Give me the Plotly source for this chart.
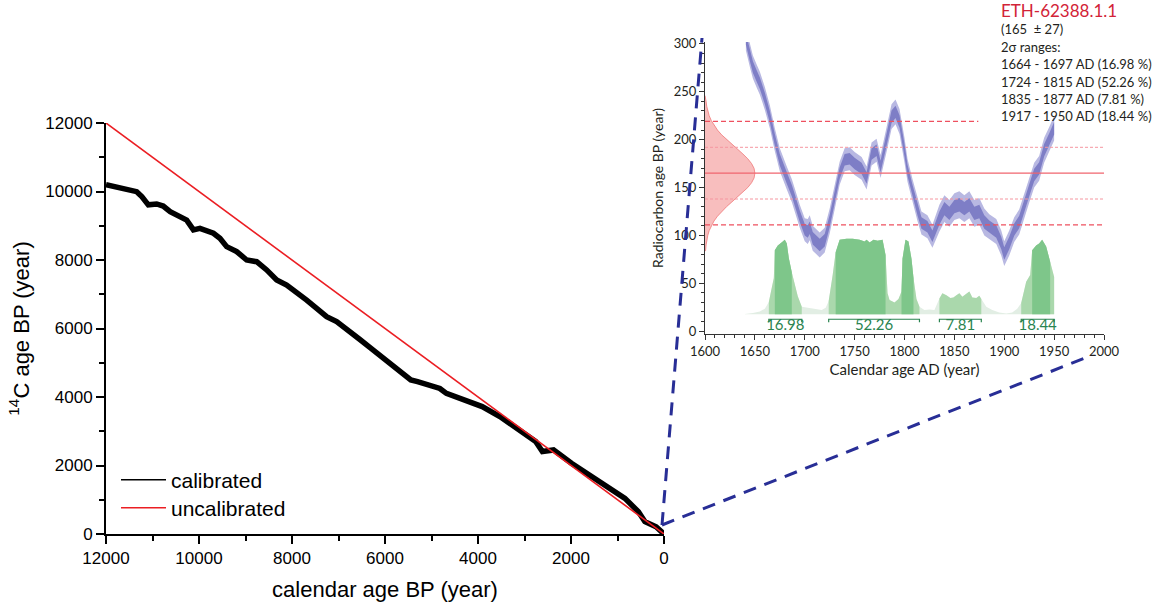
import plotly.graph_objects as go

W, H = 1153, 608

# ---------------- main chart data ----------------
main_age = [12000, 11770, 11555, 11340, 11230, 11090, 10910, 10770, 10620, 10410, 10265, 10120,
            9980, 9690, 9550, 9405, 9190, 8975, 8760, 8545, 8330, 8115, 7900, 7685, 7470, 7255,
            7040, 6825, 6540, 6300, 6050, 5800, 5550, 5445, 5300, 5060, 4820, 4680, 4290, 3910,
            3530, 3140, 2760, 2615, 2375, 1990, 1610, 1225, 840, 550, 410, 170, 50, 0]
main_c14 = [10200, 10120, 10045, 9995, 9850, 9610, 9635, 9575, 9410, 9265, 9165, 8880,
            8925, 8780, 8635, 8390, 8245, 8000, 7950, 7710, 7415, 7270, 7025, 6830, 6590, 6345,
            6200, 5955, 5680, 5420, 5150, 4880, 4620, 4500, 4450, 4350, 4250, 4105, 3910, 3720,
            3430, 3040, 2700, 2410, 2455, 2065, 1725, 1380, 1040, 650, 360, 210, 60, 0]
uncal_age = [12000, 0]
uncal_c14 = [12000, 0]
main_xticks = [12000, 10000, 8000, 6000, 4000, 2000, 0]
main_yticks = [0, 2000, 4000, 6000, 8000, 10000, 12000]

# ---------------- inset data ----------------
cal_year = [1641, 1645, 1648, 1652, 1655, 1660, 1665, 1670, 1675, 1682, 1687, 1690, 1695, 1700,
            1703, 1705, 1708, 1715, 1720, 1725, 1730, 1735, 1740, 1745, 1750, 1757, 1762, 1767,
            1772, 1776, 1782, 1787, 1791, 1795, 1800, 1803, 1808, 1813, 1817, 1823, 1828, 1835,
            1840, 1845, 1850, 1855, 1860, 1865, 1870, 1875, 1880, 1885, 1892, 1897, 1900, 1905,
            1910, 1915, 1920, 1925, 1930, 1935, 1940, 1945, 1950]
cal_bp = [305, 288, 276, 266, 259, 243, 224, 200, 179, 160, 147, 137, 120, 106,
          104, 108, 97, 90, 95, 115, 140, 165, 179, 180, 175, 170, 160, 185,
          189, 172, 200, 224, 229, 219, 189, 168, 147, 127, 113, 109, 99, 118,
          128, 123, 130, 132, 128, 132, 123, 125, 114, 109, 104, 92, 81, 92,
          106, 114, 130, 147, 163, 170, 189, 200, 212]
cal_sigma = [6, 6, 6, 6, 6, 6, 6, 6, 6, 6, 6, 6, 6, 6,
             6.5, 6.5, 6.5, 6.5, 6.5, 6.5, 6.5, 6, 6, 6, 6, 6, 6, 6,
             6, 6, 6.5, 6.5, 6.5, 6.5, 6.5, 6, 6, 6, 6, 6, 6, 7,
             7, 7, 7, 7, 7, 7, 7, 7, 7, 6.5, 6.5, 6.5, 6.5, 6.5,
             6.5, 6.5, 6.5, 6.5, 6.5, 6.5, 6.5, 6.5, 6.5]

dist_year = [1640, 1648, 1655, 1660, 1664, 1667, 1669, 1670, 1673, 1677, 1680, 1682, 1684, 1687,
             1690, 1693, 1697, 1702, 1707, 1712, 1717, 1721, 1724, 1728, 1731, 1735, 1742, 1748,
             1755, 1760, 1762, 1765, 1769, 1773, 1778, 1781, 1783, 1785, 1790, 1794, 1797, 1798,
             1801, 1804, 1807, 1809, 1812, 1815, 1820, 1825, 1830, 1835, 1838, 1842, 1846, 1849,
             1852, 1855, 1858, 1862, 1865, 1868, 1872, 1875, 1877, 1882, 1888, 1895, 1902, 1908,
             1913, 1917, 1922, 1926, 1928, 1932, 1935, 1938, 1942, 1946, 1948, 1950]
dist_h = [0.5, 1.5, 3, 6, 13, 28, 38, 67, 72, 75, 78, 74, 59, 44,
          32, 19, 8, 7, 6, 5.5, 4.5, 7, 14, 41, 65, 78, 79, 79,
          78, 76, 78, 75, 78, 77, 78, 62, 22, 15, 12.5, 16, 24, 58,
          78, 76, 58, 38, 16, 8, 4.5, 5, 4.5, 16.7, 22, 20, 17, 17.5,
          20, 22, 18.5, 22, 24, 17.5, 17, 19.5, 16, 8, 4.5, 2, 1, 2,
          6, 12, 34, 41, 67, 72, 74, 78, 71, 55, 48, 39]
dist_base = 17.5

sample_name = "ETH-62388.1.1"
meas_mean, meas_sd = 165, 27
gauss_bp = [84, 90, 95, 100, 105, 110, 115, 120, 125, 130, 135, 140, 145, 150, 155, 160, 165,
            170, 175, 180, 185, 190, 195, 200, 205, 210, 215, 220, 225, 230, 235, 240, 246]
gauss_w = [0.6, 1.1, 1.7, 2.8, 4.2, 6.3, 9.0, 12.5, 16.7, 21.6, 27.0, 32.6, 38.0, 42.9, 46.7, 49.2, 50,
           49.2, 46.7, 42.9, 38.0, 32.6, 27.0, 21.6, 16.7, 12.5, 9.0, 6.3, 4.2, 2.8, 1.7, 1.1, 0.6]

range2_start = [1664, 1724, 1835, 1917]
range2_end = [1697, 1815, 1877, 1950]
range2_pct = ["16.98", "52.26", "7.81", "18.44"]
range1_start = [1670, 1731, 1797, 1928]
range1_end = [1687, 1781, 1809, 1946]

inset_xticks = [1600, 1650, 1700, 1750, 1800, 1850, 1900, 1950, 2000]
inset_yticks = [0, 50, 100, 150, 200, 250, 300]
X2_MIN, X2_MAX = 1600, 2000
UPPER_2S_END = 1874

# ---------------- styling ----------------
MAIN_FONT = "Liberation Sans"
INSET_FONT = "Lato"
PALE_GREEN = "rgb(226,238,228)"
LIGHT_GREEN = "rgb(170,216,172)"
DARK_GREEN = "rgb(126,198,138)"
BAND_OUTER = "rgb(184,184,226)"
BAND_INNER = "rgb(126,126,198)"
TEXT_GREEN = "#2a8450"
RED_DASH = "rgb(238,80,95)"


def px_x(px):
    return px / W


def px_y(py):
    return 1 - py / H


fig = go.Figure()
ins = dict(xaxis="x2", yaxis="y2", hoverinfo="skip", showlegend=False)


def segment(s, e):
    idx = [i for i, y in enumerate(dist_year) if s <= y <= e]
    xs = [dist_year[idx[0]]] + [dist_year[i] for i in idx] + [dist_year[idx[-1]]]
    ys = [dist_base] + [dist_base + dist_h[i] for i in idx] + [dist_base]
    return xs, ys


# pale full distribution
xs, ys = segment(dist_year[0], dist_year[-1])
fig.add_trace(go.Scatter(x=xs, y=ys, mode="lines", fill="toself", fillcolor=PALE_GREEN,
                         line=dict(width=0), **ins))
for s, e in zip(range2_start, range2_end):
    xs, ys = segment(s, e)
    fig.add_trace(go.Scatter(x=xs, y=ys, mode="lines", fill="toself", fillcolor=LIGHT_GREEN,
                             line=dict(width=0), **ins))
for s, e in zip(range1_start, range1_end):
    xs, ys = segment(s, e)
    fig.add_trace(go.Scatter(x=xs, y=ys, mode="lines", fill="toself", fillcolor=DARK_GREEN,
                             line=dict(width=0), **ins))

# brackets + labels
BR_HI, BR_LO, LBL_Y = 12.4, 9.3, 5.6
for s, e, p in zip(range2_start, range2_end, range2_pct):
    fig.add_trace(go.Scatter(x=[s, s, e, e], y=[BR_LO, BR_HI, BR_HI, BR_LO], mode="lines",
                             line=dict(color=TEXT_GREEN, width=1.2), **ins))
    fig.add_trace(go.Scatter(x=[(s + e) / 2], y=[LBL_Y], mode="text", text=[p],
                             textfont=dict(family=INSET_FONT, size=15, color=TEXT_GREEN),
                             cliponaxis=False, **ins))

# measurement gaussian
gx = [X2_MIN] + [X2_MIN + w for w in gauss_w] + [X2_MIN]
gy = [gauss_bp[0]] + gauss_bp + [gauss_bp[-1]]
fig.add_trace(go.Scatter(x=gx, y=gy, mode="lines", fill="toself", fillcolor="rgb(248,190,190)",
                         line=dict(color="rgb(240,120,120)", width=0.8), **ins))

# calibration curve bands
for k, col in ((2, BAND_OUTER), (1, BAND_INNER)):
    up = [c + k * s for c, s in zip(cal_bp, cal_sigma)]
    lo = [c - k * s for c, s in zip(cal_bp, cal_sigma)]
    fig.add_trace(go.Scatter(x=cal_year + cal_year[::-1], y=up + lo[::-1], mode="lines",
                             fill="toself", fillcolor=col, line=dict(width=0), **ins))

# measurement lines
fig.add_trace(go.Scatter(x=[X2_MIN, X2_MAX], y=[meas_mean, meas_mean], mode="lines",
                         line=dict(color="rgb(240,100,110)", width=1.1), **ins))
for v in (meas_mean - meas_sd, meas_mean + meas_sd):
    fig.add_trace(go.Scatter(x=[X2_MIN, X2_MAX], y=[v, v], mode="lines",
                             line=dict(color="rgb(245,150,160)", width=1, dash="3px,2px"), **ins))
for x_end, v in ((X2_MAX, meas_mean - 2 * meas_sd), (UPPER_2S_END, meas_mean + 2 * meas_sd)):
    fig.add_trace(go.Scatter(x=[X2_MIN, x_end], y=[v, v], mode="lines",
                             line=dict(color=RED_DASH, width=1.2, dash="5px,3px"), **ins))

# ---------------- main traces ----------------
fig.add_trace(go.Scatter(x=main_age, y=main_c14, mode="lines", line=dict(color="black", width=5.5),
                         showlegend=False, hoverinfo="skip"))
fig.add_trace(go.Scatter(x=uncal_age, y=uncal_c14, mode="lines",
                         line=dict(color="rgb(235,30,35)", width=1.6), showlegend=False,
                         hoverinfo="skip"))
fig.add_trace(go.Scatter(x=[None], y=[None], mode="lines", name="calibrated",
                         line=dict(color="black", width=1.5), legend="legend"))
fig.add_trace(go.Scatter(x=[None], y=[None], mode="lines", name="uncalibrated",
                         line=dict(color="rgb(235,30,35)", width=1.5), legend="legend2"))

# ---------------- connectors ----------------
DASH_COL = "rgb(40,46,150)"
P0 = (662, 525)
for P1 in ((702, 38), (1090, 356)):
    fig.add_shape(type="line", xref="paper", yref="paper",
                  x0=px_x(P0[0]), y0=px_y(P0[1]), x1=px_x(P1[0]), y1=px_y(P1[1]),
                  line=dict(color=DASH_COL, width=3, dash="13px,9px"))

# ---------------- text block ----------------
TX = px_x(999)
fig.add_annotation(xref="paper", yref="paper", x=TX, y=px_y(10), xanchor="left", yanchor="middle",
                   text=sample_name, showarrow=False,
                   font=dict(family=INSET_FONT, size=17, color="rgb(210,35,55)"))
lines = [f"({meas_mean}  \u00b1 {meas_sd})", "2\u03c3 ranges:"] + [
    f"{s} - {e} AD ({p} %)" for s, e, p in zip(range2_start, range2_end, range2_pct)]
for i, t in enumerate(lines):
    fig.add_annotation(xref="paper", yref="paper", x=TX, y=px_y(29.3 + 17.4 * i),
                       xanchor="left", yanchor="middle", text=t, showarrow=False,
                       font=dict(family=INSET_FONT, size=13, color="#231f20"))

axis_main = dict(showline=True, linewidth=2, linecolor="black", ticks="outside", ticklen=8,
                 tickwidth=2, tickcolor="black", showgrid=False, zeroline=False,
                 automargin=False, tickformat="d",
                 tickfont=dict(family=MAIN_FONT, size=17, color="black"))
axis_inset = dict(showline=True, linewidth=1, linecolor="#333", ticks="outside", ticklen=5,
                  tickwidth=1, tickcolor="#333", showgrid=False, zeroline=False,
                  automargin=False, tickformat="d",
                  tickfont=dict(family=INSET_FONT, size=13, color="#231f20"))

leg_common = dict(x=px_x(116), xanchor="left", yanchor="middle", bgcolor="rgba(0,0,0,0)",
                  font=dict(family=MAIN_FONT, size=21, color="black"), itemwidth=45)

fig.update_layout(
    width=W, height=H, autosize=False, margin=dict(l=0, r=0, t=0, b=0, autoexpand=False),
    paper_bgcolor="white", plot_bgcolor="rgba(0,0,0,0)",
    xaxis=dict(axis_main, domain=[px_x(106), px_x(664)], range=[12000, 0], anchor="y",
               tickvals=main_xticks,
               minor=dict(dtick=1000, ticks="outside", ticklen=5, tickwidth=1.5, tickcolor="black"),
               title=dict(text="calendar age BP (year)", standoff=14,
                          font=dict(family=MAIN_FONT, size=22, color="black"))),
    yaxis=dict(axis_main, domain=[px_y(534), px_y(123)], range=[0, 12000], anchor="x",
               tickvals=main_yticks,
               minor=dict(dtick=1000, ticks="outside", ticklen=5, tickwidth=1.5, tickcolor="black"),
               title=dict(text="<sup>14</sup>C age BP (year)", standoff=10,
                          font=dict(family=MAIN_FONT, size=22, color="black"))),
    xaxis2=dict(axis_inset, domain=[px_x(705), px_x(1104)], range=[X2_MIN, X2_MAX], anchor="y2",
                tickvals=inset_xticks,
                minor=dict(dtick=10, ticks="outside", ticklen=3, tickwidth=1, tickcolor="#333"),
                title=dict(text="Calendar age AD (year)", standoff=6,
                           font=dict(family=INSET_FONT, size=15, color="#231f20"))),
    yaxis2=dict(axis_inset, domain=[px_y(334), px_y(42)], range=[-3, 302], anchor="x2",
                tickvals=inset_yticks,
                minor=dict(dtick=10, ticks="outside", ticklen=3, tickwidth=1, tickcolor="#333"),
                title=dict(text="Radiocarbon age BP (year)", standoff=6,
                           font=dict(family=INSET_FONT, size=14, color="#231f20"))),
    legend=dict(leg_common, y=px_y(480)),
    legend2=dict(leg_common, y=px_y(508)),
)

fig.write_html("out.html")
